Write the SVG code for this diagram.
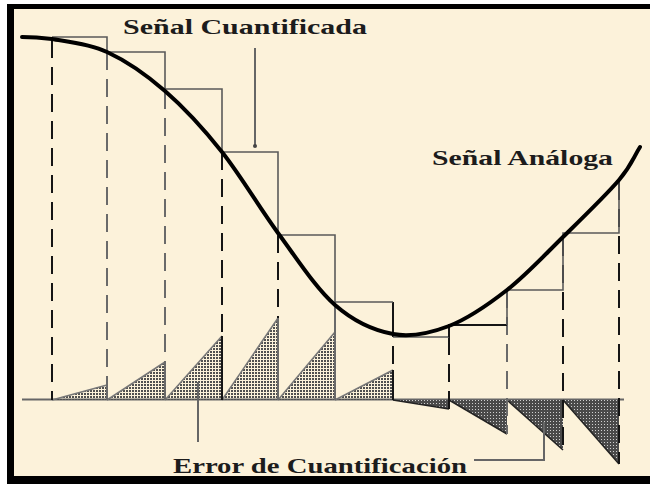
<svg xmlns="http://www.w3.org/2000/svg" width="650" height="484" viewBox="0 0 650 484">
<style>
.lbl{font-family:"Liberation Serif","DejaVu Serif",serif;font-weight:bold;font-size:22px;fill:#1c1c1c}
.step{fill:none;stroke:#5a5a5a;stroke-width:1.6}
.dk{stroke:#151515;stroke-width:2;fill:none}
.gy{stroke:#6a6a6a;stroke-width:2;fill:none}
.dash{stroke-dasharray:18 9}
.ptr{stroke:#666;stroke-width:2;fill:none}
.errA{fill:url(#dotsA);stroke:none}
.errB{fill:url(#dotsB);stroke:none}
</style>
<defs>
<pattern id="dotsA" width="3" height="3" patternUnits="userSpaceOnUse"><rect width="2" height="2" fill="#505050"/></pattern>
<pattern id="dotsB" width="3" height="3" patternUnits="userSpaceOnUse"><rect width="3" height="3" fill="#4a4a4a"/><rect x="1" y="1" width="1" height="1" fill="#d0d0d0"/></pattern>
<marker id="tip" markerWidth="6" markerHeight="6" refX="3" refY="3" orient="auto" markerUnits="userSpaceOnUse"><circle cx="3" cy="3" r="2" fill="#444"/></marker>
</defs>
<g id="background">
<rect width="650" height="484" fill="#ffffff"/>
<rect x="7" y="4" width="643" height="480" fill="#fcf2da"/>
</g>
<g id="frame" fill="#000">
<rect x="7" y="4" width="643" height="5"/>
<rect x="7" y="4" width="7" height="480"/>
<rect x="7" y="476" width="643" height="8"/>
</g>
<g id="axis">
<line x1="22" y1="399.5" x2="624" y2="399.5" stroke="#666" stroke-width="2"/>
</g>
<g id="error">
<polygon class="errA" points="52,400 107,385 107,400"/>
<polygon class="errA" points="107,400 165,362 165,400"/>
<polygon class="errA" points="165,400 222,336 222,400"/>
<polygon class="errA" points="222,400 278,318 278,400"/>
<polygon class="errA" points="278,400 335,332 335,400"/>
<polygon class="errA" points="335,400 393,370 393,400"/>
<g stroke="#777" stroke-width="1.5" fill="none">
<line x1="52" y1="400" x2="107" y2="385"/>
<line x1="107" y1="400" x2="165" y2="362"/>
<line x1="165" y1="400" x2="222" y2="336"/>
<line x1="222" y1="400" x2="278" y2="318"/>
<line x1="278" y1="400" x2="335" y2="332"/>
<line x1="335" y1="400" x2="393" y2="370"/>
</g>
<polygon class="errB" points="393,400 449,409 449,400"/>
<polygon class="errB" points="449,400 507,434 507,400"/>
<polygon class="errB" points="507,400 563,450 563,400"/>
<polygon class="errB" points="563,400 619,464 619,400"/>
<g stroke="#222" stroke-width="1.5" fill="none">
<line x1="393" y1="400" x2="449" y2="409"/>
<line x1="449" y1="400" x2="507" y2="434"/>
<line x1="507" y1="400" x2="563" y2="450"/>
<line x1="563" y1="400" x2="619" y2="464"/>
</g>
</g>
<g id="samples">
<line class="dk dash" x1="52" y1="40" x2="52" y2="400"/>
<line class="gy dash" x1="107" y1="52" x2="107" y2="385"/>
<line class="gy" x1="107" y1="385" x2="107" y2="400"/>
<line class="gy dash" x1="165" y1="91" x2="165" y2="362"/>
<line class="gy" x1="165" y1="362" x2="165" y2="400"/>
<line class="dk dash" x1="222" y1="152" x2="222" y2="336"/>
<line class="dk" x1="222" y1="336" x2="222" y2="400"/>
<line class="dk dash" x1="278" y1="235" x2="278" y2="318"/>
<line class="gy" x1="278" y1="318" x2="278" y2="400"/>
<line class="gy" x1="335" y1="302" x2="335" y2="400"/>
<line class="dk" x1="393" y1="302" x2="393" y2="337"/>
<line class="dk dash" x1="393" y1="346" x2="393" y2="370"/>
<line class="dk" x1="393" y1="370" x2="393" y2="400"/>
<line class="dk dash" x1="449" y1="337" x2="449" y2="409"/>
<line class="gy dash" x1="507" y1="290" x2="507" y2="434"/>
<line class="dk dash" x1="563" y1="238" x2="563" y2="450"/>
<line class="dk dash" x1="619" y1="182" x2="619" y2="464"/>
</g>
<g id="quantized">
<path class="step" d="M52,37 H107 V52 H165 V89 H222 V152 H278 V235 H335 V302 H393"/>
<path class="step" d="M393,337 H449"/>
<path d="M449,337 V325 H507" stroke="#151515" stroke-width="2" fill="none"/>
<path class="step" d="M507,325 V290 H563 V233 H619 V182"/>
</g>
<g id="analog">
<path fill="none" stroke="#000" stroke-width="4" stroke-linecap="round" d="M22,37 C32,37 40,37.5 52,39 C66.2,41.5 88.2,43.3 107,52 C125.8,60.7 145.8,74.3 165,91 C184.2,107.7 203.2,128.3 222,152 C240.8,175.7 259.2,207.5 278,233 C296.8,258.5 315.8,288.2 335,305 C354.2,321.8 374,330.5 393,334 C412,337.5 430,333.3 449,326 C468,318.7 488,304.8 507,290 C526,275.2 544.3,255.3 563,237 C581.7,218.7 606.2,195 619,180 C631.8,165 633,158 640,147"/>
</g>
<g id="connectors">
<line class="ptr" x1="255" y1="48" x2="255" y2="146" marker-end="url(#tip)"/>
<line class="ptr" x1="198" y1="382" x2="198" y2="442"/>
<polyline class="ptr" points="474,460 544,460 544,422"/>
</g>
<g id="labels">
<text class="lbl" x="123" y="34" textLength="244" lengthAdjust="spacingAndGlyphs">Señal Cuantificada</text>
<text class="lbl" x="432" y="165" textLength="181" lengthAdjust="spacingAndGlyphs">Señal Análoga</text>
<text class="lbl" x="173" y="473" textLength="294" lengthAdjust="spacingAndGlyphs">Error de Cuantificación</text>
</g>
</svg>
